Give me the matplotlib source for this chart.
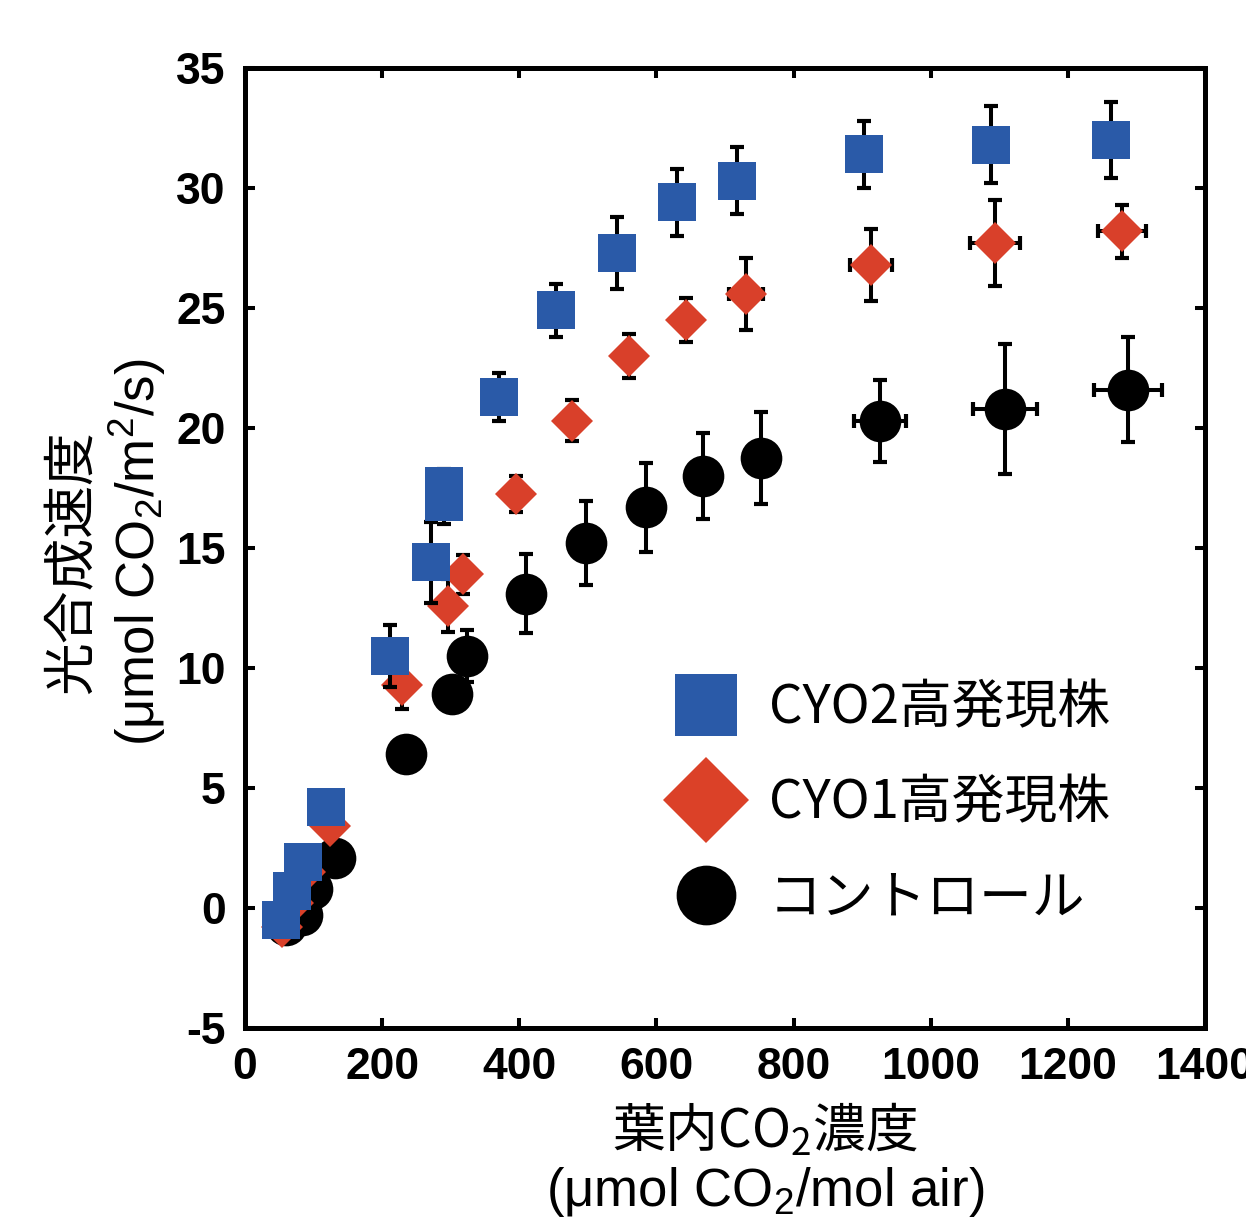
import matplotlib
matplotlib.use("Agg")
import matplotlib.pyplot as plt
from matplotlib.lines import Line2D

plt.rcParams['mathtext.default'] = 'regular'

# ---- data ----
# CYO2 high-expression line
cyo2_x = [52, 68, 85, 118, 212, 271, 290, 290, 370, 454, 542, 630, 717, 903, 1088, 1263]
cyo2_y = [-0.5, 0.7, 1.9, 4.2, 10.5, 14.4, 16.9, 17.6, 21.3, 24.9, 27.3, 29.4, 30.3, 31.4, 31.8, 32.0]
cyo2_yerr = [0.2, 0.2, 0.3, 0.4, 1.3, 1.7, 0.9, 0.7, 1.0, 1.1, 1.5, 1.4, 1.4, 1.4, 1.6, 1.6]
cyo2_xerr = [2, 2, 3, 4, 6, 6, 6, 6, 8, 8, 8, 10, 10, 12, 12, 12]

# CYO1 high-expression line
cyo1_x = [54, 70, 88, 124, 229, 296, 318, 395, 477, 560, 643, 731, 913, 1094, 1279]
cyo1_y = [-0.8, 0.2, 1.5, 3.4, 9.3, 12.6, 13.9, 17.25, 20.3, 23.0, 24.5, 25.6, 26.8, 27.7, 28.2]
cyo1_yerr = [0.2, 0.2, 0.3, 0.4, 1.0, 1.1, 0.8, 0.75, 0.85, 0.9, 0.9, 1.5, 1.5, 1.8, 1.1]
cyo1_xerr = [2, 2, 3, 4, 6, 8, 8, 10, 10, 10, 12, 25, 30, 36, 35]

# control
ctrl_x = [60, 83, 98, 131, 235, 302, 324, 410, 497, 585, 668, 752, 926, 1108, 1288]
ctrl_y = [-0.7, -0.3, 0.8, 2.1, 6.4, 8.9, 10.5, 13.1, 15.2, 16.7, 18.0, 18.75, 20.3, 20.8, 21.6]
ctrl_yerr = [0.2, 0.2, 0.3, 0.3, 0.5, 0.6, 1.1, 1.65, 1.75, 1.85, 1.8, 1.9, 1.7, 2.7, 2.2]
ctrl_xerr = [2, 3, 3, 4, 6, 8, 8, 10, 12, 12, 14, 15, 38, 47, 50]

x_ticks = [0, 200, 400, 600, 800, 1000, 1200, 1400]
y_ticks = [-5, 0, 5, 10, 15, 20, 25, 30, 35]

legend_labels = ['CYO2高発現株', 'CYO1高発現株', 'コントロール']

BLUE = '#2A5AA8'
RED = '#D9402A'
BLACK = '#000000'

W, H = 1246, 1232
fig = plt.figure(figsize=(W / 100, H / 100), dpi=100)
ax = fig.add_axes([245 / W, 1 - 1028 / H, (1205 - 245) / W, (1028 - 68) / H])

eb_kw = dict(ecolor='black', elinewidth=2.9, capsize=5, capthick=3.0, linestyle='none')

series = [
    (ctrl_x, ctrl_y, ctrl_xerr, ctrl_yerr, 'o', 30, BLACK, 3),
    (cyo1_x, cyo1_y, cyo1_xerr, cyo1_yerr, 'D', 21.5, RED, 4),
    (cyo2_x, cyo2_y, cyo2_xerr, cyo2_yerr, 's', 27, BLUE, 5),
]
for xs, ys, xe, ye, mk, ms, col, z in series:
    cont = ax.errorbar(xs, ys, yerr=ye, xerr=xe, marker=mk, markersize=ms,
                       markerfacecolor=col, markeredgecolor=col, zorder=z, **eb_kw)
    cont[0].set_markeredgewidth(0)

ax.set_xlim(0, 1400)
ax.set_ylim(-5, 35)
ax.set_xticks(x_ticks)
ax.set_yticks(y_ticks)
ax.set_xticklabels([str(v) for v in x_ticks])
ax.set_yticklabels([str(v) for v in y_ticks])

for s in ax.spines.values():
    s.set_linewidth(3.6)
ax.tick_params(direction='in', length=7, width=2.9, top=True, right=True,
               labelsize=32)
ax.tick_params(axis='y', pad=14)
ax.tick_params(axis='x', pad=14)
for lab in ax.get_xticklabels() + ax.get_yticklabels():
    lab.set_fontfamily('Liberation Sans')
    lab.set_fontweight('bold')

# legend
handles = [
    Line2D([], [], linestyle='none', marker='s', markersize=45, markerfacecolor=BLUE, markeredgewidth=0),
    Line2D([], [], linestyle='none', marker='D', markersize=44, markerfacecolor='#DB4128', markeredgewidth=0),
    Line2D([], [], linestyle='none', marker='o', markersize=43, markerfacecolor=BLACK, markeredgewidth=0),
]
leg = ax.legend(handles, legend_labels, loc='center left',
                bbox_to_anchor=(674 / W, 1 - 803 / H), bbox_transform=fig.transFigure,
                frameon=False, borderpad=0, borderaxespad=0,
                handlelength=1.2, handletextpad=0.6, labelspacing=0.76,
                prop={'family': ['Noto Sans CJK JP'], 'size': 38})

# axis labels
lab_font = 38
fig.text(72 / W, 1 - 562 / H, '光合成速度', rotation=90, ha='center', va='center',
         family=['Noto Sans CJK JP'], fontsize=lab_font)
fig.text(137 / W, 1 - 552 / H, '(μmol CO$_2$/m$^2$/s)', rotation=90, ha='center', va='center',
         family=['Liberation Sans'], fontsize=lab_font)
fig.text(765 / W, 1 - 1130 / H, '葉内CO$_2$濃度', ha='center', va='center',
         family=['Noto Sans CJK JP'], fontsize=lab_font)
fig.text(765 / W, 1 - 1192 / H, '(μmol CO$_2$/mol air)', ha='center', va='center',
         family=['Liberation Sans'], fontsize=lab_font)

fig.savefig('out.png', dpi=100)
